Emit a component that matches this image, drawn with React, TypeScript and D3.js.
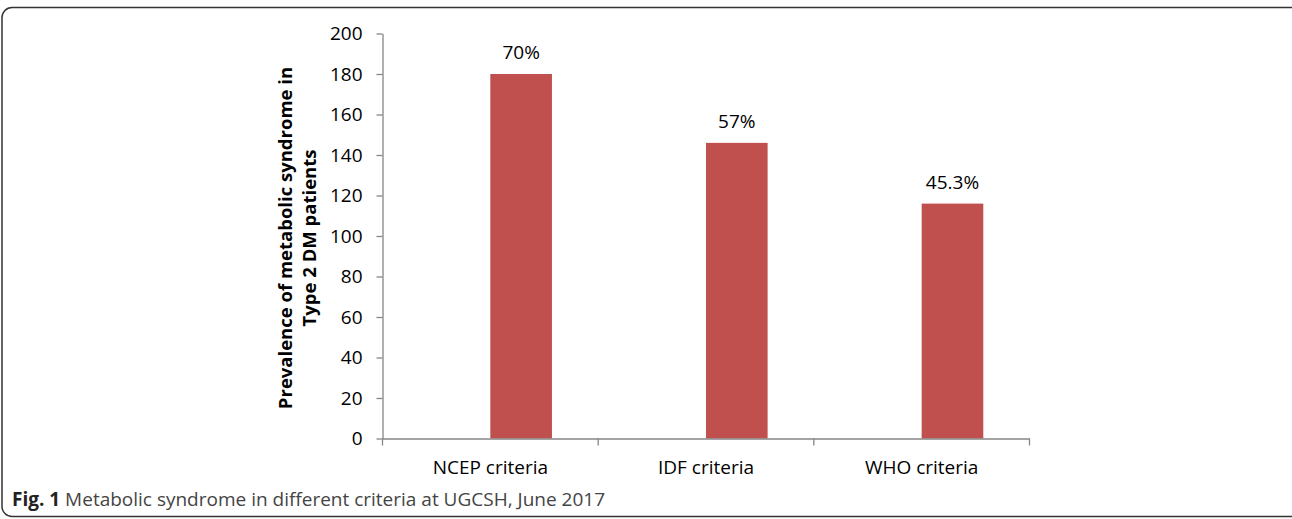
import React, { useEffect, useRef } from "react";
import * as d3 from "d3";

const categories = ["NCEP criteria", "IDF criteria", "WHO criteria"];
const seriesKeys = ["blank", "count"];
const counts = [180, 146, 116];
const percentLabels = ["70%", "57%", "45.3%"];
const yTicks = [0, 20, 40, 60, 80, 100, 120, 140, 160, 180, 200];
const yTitleLines = ["Prevalence of metabolic syndrome in", "Type 2 DM patients"];
const captionBold = "Fig. 1";
const captionText = " Metabolic syndrome in different criteria at UGCSH, June 2017";

const W = 1292;
const H = 519;
const left = 382.5;
const right = 1029.5;
const top = 33.5;
const bottom = 438.5;
const FONT = "'Open Sans', sans-serif";
const BAR = "#C0504D";
const AXIS = "#868686";
const FS = 19;

export default function App() {
  const yRef = useRef<SVGGElement>(null);
  const xRef = useRef<SVGGElement>(null);

  const x0 = d3.scaleBand<string>().domain(categories).range([left, right]).padding(0);
  const x1 = d3
    .scaleBand<string>()
    .domain(seriesKeys)
    .range([0, x0.bandwidth()])
    .paddingInner(0)
    .paddingOuter(0.75);
  const y = d3.scaleLinear().domain([0, 200]).range([bottom, top]);

  useEffect(() => {
    if (yRef.current) {
      const g = d3.select(yRef.current);
      g.selectAll("*").remove();
      g.call(d3.axisLeft(y).tickValues(yTicks).tickSize(6).tickSizeOuter(0).tickPadding(14).tickFormat(d3.format("d")));
      g.select(".domain").attr("stroke", AXIS).attr("stroke-width", 1.3);
      g.selectAll(".tick line").attr("stroke", AXIS).attr("stroke-width", 1.3);
      g.selectAll(".tick text")
        .attr("fill", "#000")
        .style("font-family", FONT)
        .style("font-size", `${FS}px`);
    }
    if (xRef.current) {
      const g = d3.select(xRef.current);
      g.selectAll("*").remove();
      g.call(d3.axisBottom(x0).tickSize(0).tickSizeOuter(0).tickPadding(22));
      g.select(".domain").attr("stroke", AXIS).attr("stroke-width", 1.3);
      g.selectAll(".tick text")
        .attr("fill", "#000")
        .style("font-family", FONT)
        .style("font-size", `${FS}px`);
      const bounds = [left, ...categories.map((c) => (x0(c) as number) + x0.bandwidth())];
      g.selectAll("line.bound")
        .data(bounds)
        .enter()
        .append("line")
        .attr("class", "bound")
        .attr("x1", (d) => d)
        .attr("x2", (d) => d)
        .attr("y1", 0)
        .attr("y2", 7)
        .attr("stroke", AXIS)
        .attr("stroke-width", 1.3);
    }
  }, []);

  return (
    <svg
      width={W}
      height={H}
      style={{ position: "absolute", left: 0, top: 0, background: "#fff" }}
    >
      <rect x={2} y={7.5} width={1300} height={509} rx={10} ry={10} fill="none" stroke="#333" strokeWidth={1.5} />
      {categories.map((c, i) => {
        const bx = (x0(c) as number) + (x1("count") as number);
        return (
          <g key={c}>
            <rect
              x={bx}
              y={y(counts[i])}
              width={x1.bandwidth()}
              height={y(0) - y(counts[i])}
              fill={BAR}
            />
            <text
              x={bx + x1.bandwidth() / 2}
              y={y(counts[i]) - 15}
              textAnchor="middle"
              fontFamily={FONT}
              fontSize={FS}
              fill="#000"
            >
              {percentLabels[i]}
            </text>
          </g>
        );
      })}
      <g ref={yRef} transform={`translate(${left},0)`} />
      <g ref={xRef} transform={`translate(0,${bottom})`} />
      <g transform={`translate(0,${(top + bottom) / 2 + 2}) rotate(-90)`}>
        {yTitleLines.map((t, i) => (
          <text
            key={t}
            x={0}
            y={292 + i * 23.5}
            textAnchor="middle"
            fontFamily={FONT}
            fontWeight="bold"
            fontSize={18.5}
            fill="#000"
          >
            {t}
          </text>
        ))}
      </g>
      <text x={12} y={506} fontFamily={FONT} fontSize={FS} fill="#222">
        <tspan fontWeight="bold">{captionBold}</tspan>
        <tspan fill="#444">{captionText}</tspan>
      </text>
    </svg>
  );
}
